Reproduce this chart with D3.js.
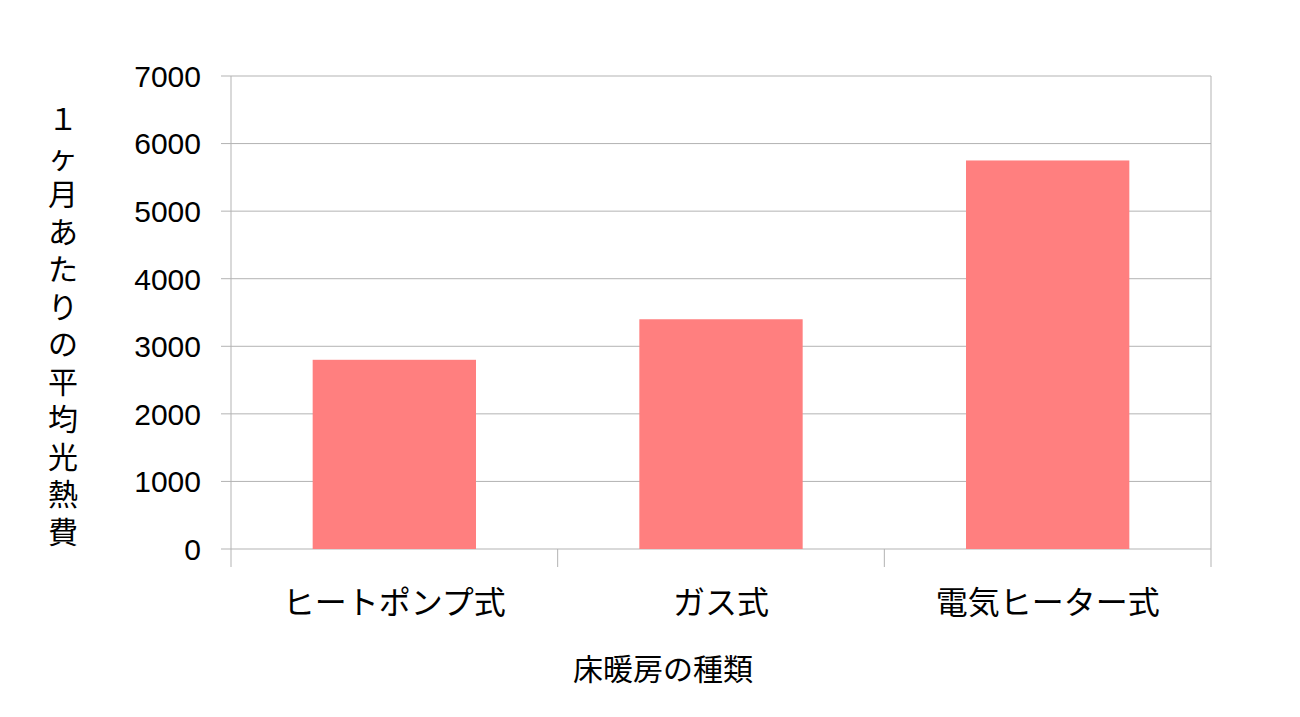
<!DOCTYPE html>
<html><head><meta charset="utf-8">
<script src="https://cdn.jsdelivr.net/npm/d3@7"></script>
<style>body{margin:0;background:#fff}text{font-family:"Liberation Sans","Noto Sans CJK JP",sans-serif;fill:#000}</style>
</head><body>
<script>
const categories = ["ヒートポンプ式", "ガス式", "電気ヒーター式"];
const values = [2800, 3400, 5750];
const yTicks = [0, 1000, 2000, 3000, 4000, 5000, 6000, 7000];
const yLabel = "１ヶ月あたりの平均光熱費";
const xLabel = "床暖房の種類";

const svg = d3.select("body").append("svg").attr("width", 1300).attr("height", 717);
const plotLeft = 231, plotRight = 1211, plotTop = 76, plotBottom = 549;

const x = d3.scaleBand().domain(categories).range([plotLeft, plotRight]).paddingInner(0).paddingOuter(0);
const y = d3.scaleLinear().domain([0, 7000]).range([plotBottom, plotTop]);

// gridlines
svg.selectAll(".grid").data(yTicks).enter().append("line")
    .attr("x1", plotLeft - 10).attr("x2", plotRight)
    .attr("y1", d => y(d)).attr("y2", d => y(d))
    .attr("stroke", "#b3b3b3").attr("stroke-width", 1);

// axes lines
svg.append("line").attr("x1", plotLeft).attr("x2", plotLeft).attr("y1", plotTop).attr("y2", plotBottom + 18).attr("stroke", "#b3b3b3");
svg.append("line").attr("x1", plotRight).attr("x2", plotRight).attr("y1", plotTop).attr("y2", plotBottom + 18).attr("stroke", "#b3b3b3");
categories.slice(1).forEach(c => {
    svg.append("line").attr("x1", x(c)).attr("x2", x(c)).attr("y1", plotBottom).attr("y2", plotBottom + 18).attr("stroke", "#b3b3b3");
});

// bars
const bw = x.bandwidth() * 0.5;
svg.selectAll(".bar").data(values).enter().append("rect")
    .attr("x", (d, i) => x(categories[i]) + (x.bandwidth() - bw) / 2)
    .attr("width", bw)
    .attr("y", d => y(d))
    .attr("height", d => plotBottom - y(d))
    .attr("fill", "#ff7f7f");

// y tick labels
svg.selectAll(".yt").data(yTicks).enter().append("text")
    .attr("x", 201).attr("y", d => y(d)).attr("dy", "0.36em")
    .attr("text-anchor", "end").attr("font-size", 30).text(d => d);

// x tick labels
svg.selectAll(".xt").data(categories).enter().append("text")
    .attr("x", d => x(d) + x.bandwidth() / 2).attr("y", 614)
    .attr("text-anchor", "middle").attr("font-size", 32).text(d => d);

// x label
svg.append("text").attr("x", 663).attr("y", 680).attr("text-anchor", "middle")
    .attr("font-size", 30).text(xLabel);

// y label, stacked vertically
svg.selectAll(".yl").data(Array.from(yLabel)).enter().append("text")
    .attr("x", 63).attr("y", (d, i) => 130 + i * 37.5)
    .attr("text-anchor", "middle").attr("font-size", 30).text(d => d);
</script>
</body></html>
